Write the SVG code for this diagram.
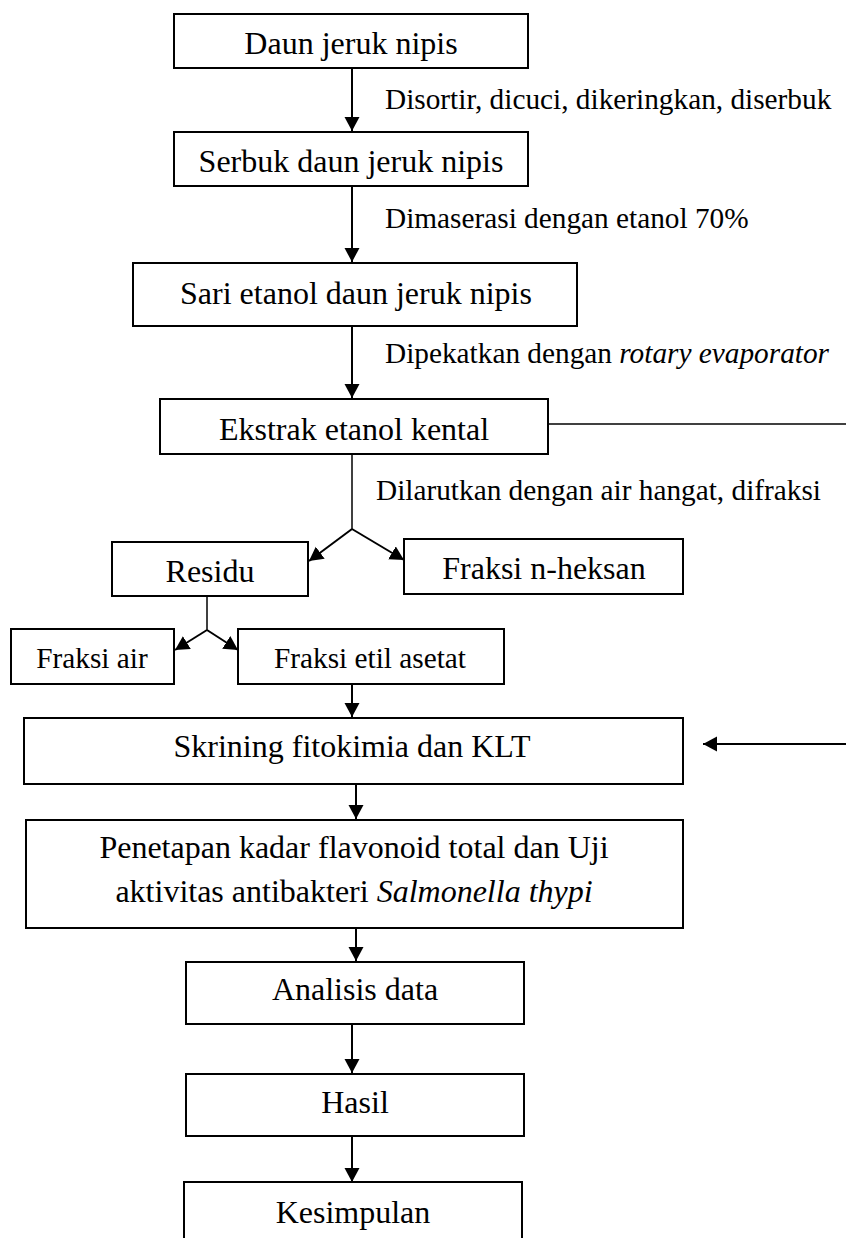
<svg xmlns="http://www.w3.org/2000/svg" width="846" height="1238" viewBox="0 0 846 1238">
<style>
.box{fill:#fff;stroke:#000;stroke-width:2}
.t{font-family:"Liberation Serif","Times New Roman",serif;font-size:32px;fill:#000;text-anchor:middle}
.s{font-family:"Liberation Serif","Times New Roman",serif;font-size:29.3px;fill:#000}
.c{fill:none;stroke:#000;stroke-width:2}
.thin{fill:none;stroke:#000;stroke-width:1.5}
</style>
<defs>
<marker id="ah" markerUnits="userSpaceOnUse" markerWidth="16" markerHeight="16" refX="14" refY="7.5" orient="auto">
<path d="M0,0 L14,7.5 L0,15 z" fill="#000"/>
</marker>
</defs>
<rect width="846" height="1238" fill="#fff"/>

<g id="connectors">
<line class="c" x1="352" y1="68" x2="352" y2="131" marker-end="url(#ah)"/>
<line class="c" x1="352" y1="186" x2="352" y2="262" marker-end="url(#ah)"/>
<line class="c" x1="352" y1="326" x2="352" y2="398" marker-end="url(#ah)"/>
<polyline class="thin" points="352,454 352,529"/>
<line class="c" x1="352" y1="529" x2="309" y2="561" marker-end="url(#ah)"/>
<line class="c" x1="352" y1="529" x2="404" y2="560" marker-end="url(#ah)"/>
<polyline class="thin" points="207,596 207,630"/>
<line class="c" x1="207" y1="630" x2="175" y2="650" marker-end="url(#ah)"/>
<line class="c" x1="207" y1="630" x2="238" y2="650" marker-end="url(#ah)"/>
<line class="c" x1="352" y1="684" x2="352" y2="717" marker-end="url(#ah)"/>
<line class="c" x1="356" y1="784" x2="356" y2="819" marker-end="url(#ah)"/>
<line class="c" x1="356" y1="928" x2="356" y2="961" marker-end="url(#ah)"/>
<line class="c" x1="352" y1="1024" x2="352" y2="1073" marker-end="url(#ah)"/>
<line class="c" x1="352" y1="1136" x2="352" y2="1182" marker-end="url(#ah)"/>
<line class="thin" x1="548" y1="424" x2="846" y2="424"/>
<line class="c" x1="846" y1="744" x2="703" y2="744" marker-end="url(#ah)"/>
<text class="s" x="385" y="109">Disortir, dicuci, dikeringkan, diserbuk</text>
<text class="s" x="385" y="228">Dimaserasi dengan etanol 70%</text>
<text class="s" x="385" y="363">Dipekatkan dengan <tspan font-style="italic">rotary evaporator</tspan></text>
<text class="s" x="376" y="500">Dilarutkan dengan air hangat, difraksi</text>
</g>

<g id="n1"><rect class="box" x="174" y="14" width="354" height="54"/><text class="t" x="351" y="54">Daun jeruk nipis</text></g>
<g id="n2"><rect class="box" x="174" y="132" width="354" height="54"/><text class="t" x="351" y="172">Serbuk daun jeruk nipis</text></g>
<g id="n3"><rect class="box" x="133" y="263" width="444" height="63"/><text class="t" x="356" y="304">Sari etanol daun jeruk nipis</text></g>
<g id="n4"><rect class="box" x="160" y="399" width="388" height="55"/><text class="t" x="354" y="440">Ekstrak etanol kental</text></g>
<g id="n5"><rect class="box" x="112" y="542" width="196" height="54"/><text class="t" x="210" y="582">Residu</text></g>
<g id="n6"><rect class="box" x="404" y="539" width="279" height="55"/><text class="t" x="544" y="579">Fraksi n-heksan</text></g>
<g id="n7"><rect class="box" x="11" y="629" width="163" height="55"/><text class="t" style="font-size:29.3px" x="92" y="668">Fraksi air</text></g>
<g id="n8"><rect class="box" x="238" y="629" width="266" height="55"/><text class="t" style="font-size:29.3px" x="370" y="668">Fraksi etil asetat</text></g>
<g id="n9"><rect class="box" x="24" y="718" width="659" height="66"/><text class="t" x="352" y="757">Skrining fitokimia dan KLT</text></g>
<g id="n10"><rect class="box" x="26" y="820" width="657" height="108"/><text class="t" x="354" y="858">Penetapan kadar flavonoid total dan Uji</text><text class="t" x="354" y="902">aktivitas antibakteri <tspan font-style="italic">Salmonella thypi</tspan></text></g>
<g id="n11"><rect class="box" x="186" y="962" width="338" height="62"/><text class="t" x="355" y="1000">Analisis data</text></g>
<g id="n12"><rect class="box" x="186" y="1074" width="338" height="62"/><text class="t" x="355" y="1113">Hasil</text></g>
<g id="n13"><rect class="box" x="184" y="1182" width="338" height="70"/><text class="t" x="353" y="1223">Kesimpulan</text></g>
</svg>
